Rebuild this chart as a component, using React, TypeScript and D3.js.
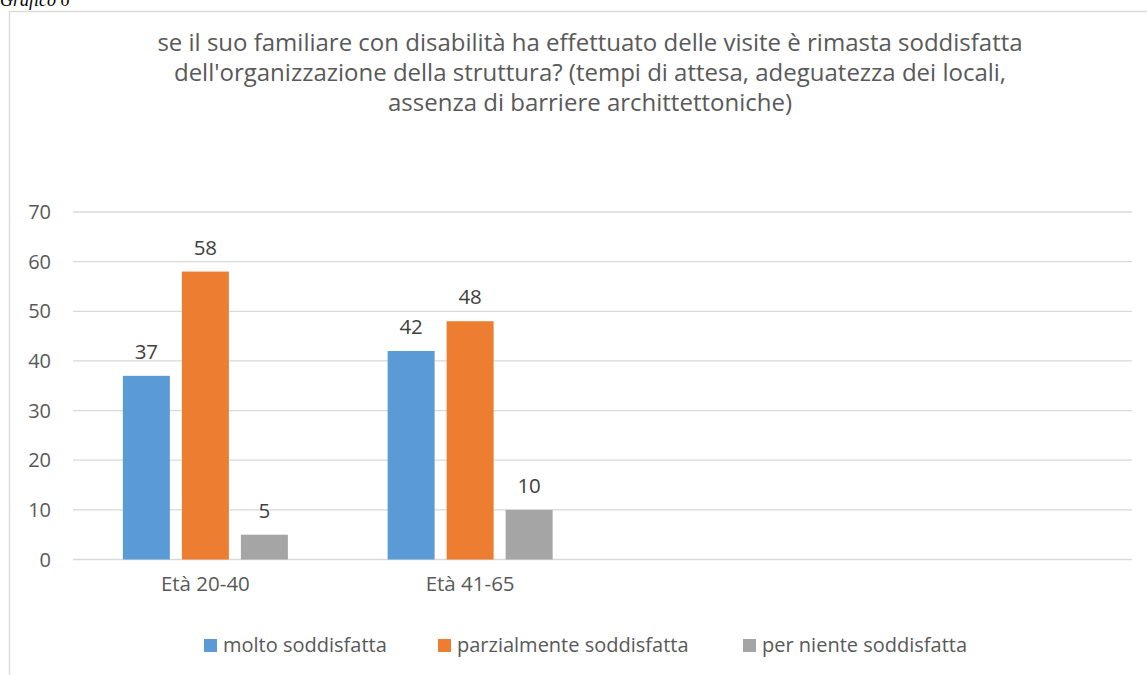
import React, { useEffect, useRef } from "react";
import * as d3 from "d3";

const categories = ["Età 20-40", "Età 41-65", "", ""];
const seriesNames = ["molto soddisfatta", "parzialmente soddisfatta", "per niente soddisfatta"];
const seriesColors = ["#5b9bd5", "#ed7d31", "#a5a5a5"];
const molto = [37, 42, null, null];
const parzialmente = [58, 48, null, null];
const perNiente = [5, 10, null, null];
const yTicks = [0, 10, 20, 30, 40, 50, 60, 70];
const titleLines = [
  "se il suo familiare con disabilità ha effettuato delle visite è rimasta soddisfatta",
  "dell'organizzazione della struttura? (tempi di attesa, adeguatezza dei locali,",
  "assenza di barriere archittettoniche)",
];

const W = 1147;
const H = 675;
const FONT = "'Open Sans', Lato, sans-serif";
const TEXT = "#595959";

export default function App() {
  const ref = useRef<SVGSVGElement | null>(null);

  useEffect(() => {
    const svg = d3.select(ref.current);
    svg.selectAll("*").remove();

    // header text above chart (partly cut off in the source as well)
    svg.append("text")
      .attr("x", 0).attr("y", 6)
      .attr("font-family", "'Liberation Serif', serif")
      .attr("font-style", "italic")
      .attr("font-size", 18)
      .attr("fill", "#000")
      .text("Grafico 6");

    // chart border
    svg.append("rect")
      .attr("x", 9.5).attr("y", 11.5)
      .attr("width", W + 20).attr("height", H + 20)
      .attr("fill", "#fff")
      .attr("stroke", "#d9d9d9").attr("stroke-width", 1.3);

    // title
    titleLines.forEach((t, i) => {
      svg.append("text")
        .attr("x", 590).attr("y", 51 + i * 30)
        .attr("text-anchor", "middle")
        .attr("font-family", FONT)
        .attr("font-size", 24)
        .attr("fill", TEXT)
        .text(t);
    });

    const x0 = 73, x1 = 1132, yTop = 212, yBot = 559.5;
    const y = d3.scaleLinear().domain([0, 70]).range([yBot, yTop]);
    const xKeys = categories.map((_, i) => String(i));
    const x = d3.scaleBand<string>().domain(xKeys).range([x0, x1]).padding(0);
    const groupW = 165;
    const xs = d3.scaleBand<string>().domain(seriesNames).range([0, groupW])
      .paddingInner(12 / 59).paddingOuter(0);

    // gridlines
    svg.append("g").selectAll("line").data(yTicks).join("line")
      .attr("x1", x0).attr("x2", x1)
      .attr("y1", (d) => y(d)).attr("y2", (d) => y(d))
      .attr("stroke", "#d9d9d9").attr("stroke-width", 1.3);

    // y tick labels
    svg.append("g").selectAll("text").data(yTicks).join("text")
      .attr("x", 51).attr("y", (d) => y(d) + 7)
      .attr("text-anchor", "end")
      .attr("font-family", FONT).attr("font-size", 20)
      .attr("fill", TEXT)
      .text((d) => String(d));

    const seriesVals = [molto, parzialmente, perNiente];
    seriesVals.forEach((vals, si) => {
      const g = svg.append("g");
      const data = vals.map((v, ci) => ({ v, ci })).filter((d) => d.v !== null) as { v: number; ci: number }[];
      const bx = (d: { ci: number }) =>
        (x(String(d.ci)) as number) + x.bandwidth() / 2 - groupW / 2 + (xs(seriesNames[si]) as number);
      g.selectAll("rect").data(data).join("rect")
        .attr("x", bx)
        .attr("y", (d) => y(d.v))
        .attr("width", xs.bandwidth())
        .attr("height", (d) => y(0) - y(d.v))
        .attr("fill", seriesColors[si]);
      g.selectAll("text").data(data).join("text")
        .attr("x", (d) => bx(d) + xs.bandwidth() / 2)
        .attr("y", (d) => y(d.v) - 17)
        .attr("text-anchor", "middle")
        .attr("font-family", FONT).attr("font-size", 20.5)
        .attr("fill", "#404040")
        .text((d) => String(d.v));
    });

    // x category labels
    svg.append("g").selectAll("text").data(categories.map((c, i) => ({ c, i }))).join("text")
      .attr("x", (d) => (x(String(d.i)) as number) + x.bandwidth() / 2)
      .attr("y", 591)
      .attr("text-anchor", "middle")
      .attr("font-family", FONT).attr("font-size", 20.5)
      .attr("fill", TEXT)
      .text((d) => d.c);

    // legend
    const legendX = [204, 438, 743];
    const lg = svg.append("g");
    seriesNames.forEach((name, i) => {
      const it = lg.append("g").attr("transform", `translate(${legendX[i]},652)`);
      it.append("rect").attr("x", 0).attr("y", -13).attr("width", 13).attr("height", 13).attr("fill", seriesColors[i]);
      it.append("text").attr("x", 19).attr("y", 0)
        .attr("font-family", FONT).attr("font-size", 20).attr("fill", TEXT).text(name);
    });
  }, []);

  return (
    <svg ref={ref} width={W} height={H}
      style={{ position: "absolute", left: 0, top: 0, background: "#fff" }} />
  );
}
